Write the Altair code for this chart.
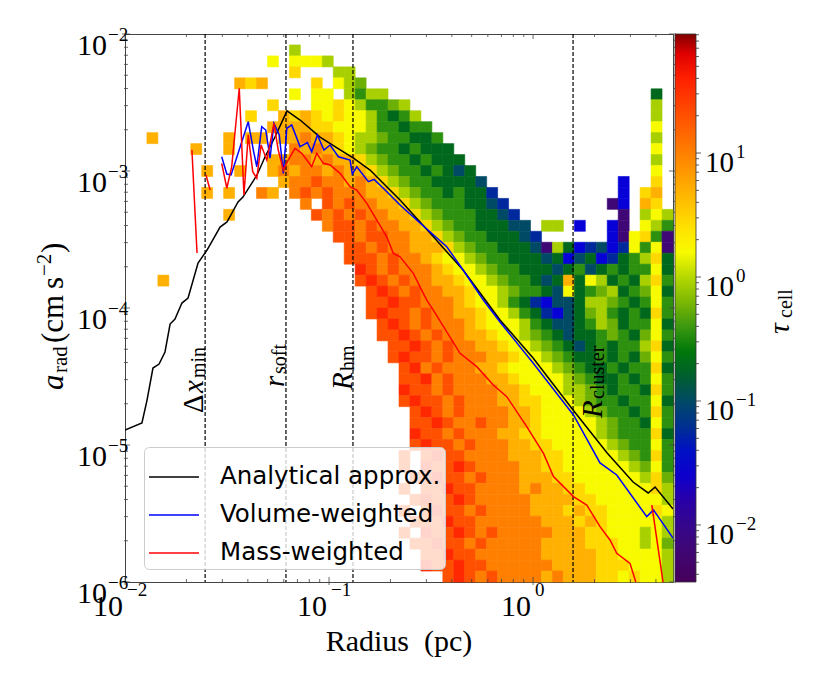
import altair as alt
import numpy as np
import pandas as pd

W, H = 548, 548
X_DOMAIN = [0.01, 4.85]
Y_DOMAIN = [1e-6, 1e-2]
SERIF = "Liberation Serif"
SANS = "DejaVu Sans"

# ---------------- colour map (log10 tau stops) ----------------
CB_STOPS = [-2.46, -2.1, -1.8, -1.5, -1.2, -1.0, -0.75, -0.6, -0.4, -0.15,
            0.05, 0.22, 0.5, 0.8, 1.0, 1.3, 1.6, 1.8, 1.96]
CB_COLORS = ["#46005a", "#3c0a80", "#2800a8", "#0000e0", "#003090", "#004a66",
             "#006420", "#00780a", "#3c9810", "#8cc000", "#c4e000", "#ffff00",
             "#ffd000", "#ffa000", "#ff8000", "#ff5000", "#ff2000", "#e00000", "#800000"]

# ---------------- 2D histogram ----------------
# 50 columns in log r from 0.01 to 4.85 pc, 50 rows in log a from 1e-2 (top) to 1e-6
TAU_CODE = {"P": -2.2, "B": -1.55, "b": -1.25, "T": -1.0, "G": -0.72, "g": -0.45,
            "h": -0.25, "l": -0.05, "y": 0.2, "Y": 0.45, "o": 0.7, "O": 1.0,
            "r": 1.3, "R": 1.55}
HEAT_ROWS = [
    ".......... .......... .......... .......... ..........",
    ".......... .....l.... .......... .......... ..........",
    ".......... ...y.yyyl. .......... .......... ..........",
    ".......... .....Y...l l......... .......... ..........",
    ".......... oYo....Y.y lh........ .......... ..........",
    ".......... .....y.yy. lgll...... .......... ........G.",
    ".......... ...Y...yyY ylgghl.... .......... ........l.",
    ".......... .Y..oYoYyY yylgGgl... .......... ........l.",
    ".......... ...ooooYYy yylggGgg.. .......... ........y.",
    "..o......o .oo.ooOooY yllhggGGg. .......... ........l.",
    "......o..o .....OoOoY ylhggGgGGG .......... ........y.",
    ".......... ...ooOOoOo oYlhggGgGG G......... ........l.",
    ".......o.. o..oOoOOoO ooYlhggGgG TG........ ........y.",
    ".......... ....oOOrOO oOoYlhggGG GGT....... .....B..Y.",
    ".......o.o ..Oo.OrOrO OOooYlhggG gGGb...... .....B.Yo.",
    ".......... ......O.rO rOOooYlhgg gGGTb..... ....PB.oY.",
    ".........o .......rOr OrOOooYlhg ggGGTb.... .....P.lyl",
    ".......... ........Or rOrOOooYlh ggGGGTT.ll .B..BP.ylg",
    ".......... .........r rOrrOOooYl hggGGGTb.. ....BPyYgP",
    ".......... .......... rrOrOOoooY lhggGGGTPl GBbTBbygyP",
    ".......... .......... rrrOrOOoYy ylhggGGGTG BTGBbGglYG",
    ".......... .......... .RrOrOOOoY yylhggGGGT GgTGgGggyG",
    "...o...... .......... .rRrOrOOoo YyylhggGTG oGylGgGlYg",
    ".......... .......... ..rRrOrOOo oYyylhggGT yGghlGghyG",
    ".......... .......... ..rrRrrOOO oYyylgGbBT TGllhgGgyg",
    ".......... .......... ..rRrrOrOO ooYyylgGbB TGhlgGgGYg",
    ".......... .......... ...rRrOrOO OoYyyylgGT TGglhGggyG",
    ".......... .......... ...rrRrOrO OooYyylhgG TGGghgGhyg",
    ".......... .......... ....rrRrOr OOooYyylhg GTGgGgglYG",
    ".......... .......... ....rRrrOr OOOooYyylh gGGgGgGhyg",
    ".......... .......... .....rROrO OOooYyyyyl hgGGgGggYG",
    ".......... .......... .....rrROr OOOooYyyyy lhgGGgGgyg",
    ".......... .......... .....RrrOr OOOOooYyyy llhgGggGYg",
    ".......... .......... .....rRrrO rOOOooYYyy ylhggGggyG",
    ".......... .......... ......rRrO rOOOOooYyy yylhggGgYg",
    ".......... .......... ......rrRr OOrOOooYyy yyylhggGyg",
    ".......... .......... ......RrrO rOOOooYYyy yyylhgggYG",
    ".......... .......... ......rRrr OrOOOooYYy yyyylhggyg",
    ".......... .......... .....r.rRr rOOOOoooYY yyyyylhgYg",
    ".......... .......... .....r.Rrr RrOOOOooYY yyyyyylhyg",
    ".......... .......... ......rrRr rOrOOOoooY YyyyyyylYh",
    ".......... .......... .....r.rrR rrOOOOoOoo YYyyyyyyYl",
    ".......... .......... ......rRrr RrOOOOOooo oYYyyyyyyl",
    ".......... .......... .....r.rRr rOrOOOOooo YoYYyyyyYy",
    ".......... .......... ......rrrR rrOOOOOOoo oYoYyyyyyl",
    ".......... .......... .....r.Rrr RrOrOOOOOo ooYYyyylyl",
    ".......... .......... ......rrRr rOrOOOOOoo ooYYYyylyh",
    ".......... .......... .......rrR rrOOOOOOoo oooYYyyyyl",
    ".......... .......... .......Rrr RrrOOOOOOo oooYYYyyyl",
    ".......... .......... .........r RrOrOOOOoO oooYYyYyyl",
]
NX, NY = 50, 50
LX = np.linspace(-2.0, np.log10(X_DOMAIN[1]), NX + 1)
LY = np.linspace(-2.0, -6.0, NY + 1)

# ---------------- profiles (log10 r, log10 a) ----------------
BLACK_LOGR = [-2.000, -1.917, -1.892, -1.863, -1.833, -1.804, -1.779, -1.755, -1.721, -1.691,
              -1.642, -1.598, -1.534, -1.500, -1.446, -1.422, -1.353, -1.314, -1.265, -1.206,
              -1.142, -1.044, -0.961, -0.882, -0.799, -0.716, -0.652, -0.505, -0.343, -0.245,
              -0.162, 0.000, 0.196, 0.363, 0.490, 0.564, 0.598, 0.686]
BLACK_LOGA = [-4.891, -4.839, -4.672, -4.438, -4.409, -4.321, -4.117, -4.080, -3.964, -3.927,
              -3.672, -3.577, -3.409, -3.372, -3.226, -3.190, -3.029, -2.898, -2.752, -2.562,
              -2.628, -2.752, -2.832, -2.905, -2.993, -3.117, -3.212, -3.453, -3.723, -3.920,
              -4.088, -4.365, -4.745, -5.058, -5.270, -5.350, -5.307, -5.467]
BLUE_LOGR = [-1.526, -1.501, -1.480, -1.396, -1.371, -1.354, -1.330, -1.310, -1.289, -1.270,
             -1.244, -1.224, -1.207, -1.183, -1.142, -1.106, -1.085, -1.057, -1.025, -0.995,
             -0.954, -0.897, -0.886, -0.864, -0.807, -0.779, -0.734, -0.685, -0.652, -0.554,
             -0.423, -0.343, -0.244, -0.162, 0.000, 0.198, 0.328, 0.410, 0.557, 0.590, 0.686]
BLUE_LOGA = [-2.896, -3.022, -3.029, -2.640, -2.847, -2.969, -2.677, -2.701, -2.907, -2.652,
             -2.737, -3.017, -2.688, -2.664, -2.823, -2.793, -2.859, -2.737, -2.847, -2.810,
             -2.896, -2.920, -3.022, -2.969, -3.078, -3.061, -3.126, -3.199, -3.248, -3.380,
             -3.553, -3.723, -3.942, -4.102, -4.401, -4.781, -5.131, -5.219, -5.523, -5.474, -5.679]
RED_SEGMENTS = [
    ([-1.672, -1.647], [-2.847, -3.599]),
    ([-1.603, -1.583], [-3.029, -3.139]),
    ([-1.526, -1.501, -1.477, -1.440, -1.417, -1.396, -1.374, -1.354, -1.333, -1.305,
      -1.270, -1.249, -1.224, -1.200, -1.167, -1.134, -1.109, -1.085, -1.060, -1.028,
      -0.995, -0.946, -0.897, -0.864, -0.815, -0.766, -0.717, -0.685, -0.652, -0.587,
      -0.538, -0.521, -0.489, -0.358, -0.276, -0.195, -0.129, -0.031, 0.051, 0.100,
      0.198, 0.263, 0.328, 0.377, 0.410, 0.475, 0.508],
     [-2.944, -3.126, -2.969, -2.396, -3.175, -2.737, -3.005, -3.053, -2.810, -2.920,
      -2.652, -2.847, -2.993, -2.920, -2.834, -2.871, -2.920, -2.969, -2.871, -2.944,
      -2.956, -3.017, -3.115, -3.139, -3.236, -3.358, -3.480, -3.601, -3.626, -3.747,
      -3.893, -3.942, -4.015, -4.331, -4.428, -4.562, -4.647, -4.866, -5.061, -5.231,
      -5.377, -5.438, -5.596, -5.693, -5.791, -5.864, -6.022]),
    ([0.582, 0.639], [-5.438, -6.022]),
]
SERIES = ["Analytical approx.", "Volume-weighted", "Mass-weighted"]
SERIES_COLORS = ["black", "#0000ff", "#ff0000"]

# vertical markers (pc) and their labels
VLINES = [0.0247, 0.0615, 0.131, 1.57]
# label pieces: (text, r of baseline, a where the piece starts, style)
VLABEL_PIECES = [
    ("Δ", 0.02412, 1.714e-5, "up"), ("x", 0.02412, 2.40e-5, "it"), ("min", 0.02412, 3.08e-5, "sub"),
    ("r", 0.06049, 2.65e-5, "it"), ("soft", 0.06049, 3.30e-5, "sub"),
    ("R", 0.1296, 2.52e-5, "it"), ("hm", 0.1296, 3.47e-5, "sub"),
    ("R", 2.178, 1.574e-5, "it"), ("cluster", 2.178, 2.17e-5, "sub"),
]

# ticks
X_MAJOR = [0.01, 0.1, 1.0]
X_MAJOR_EXP = ["−2", "−1", "0"]
X_MINOR = [k * 10.0 ** e for e in (-2, -1) for k in range(2, 10)] + [2.0, 3.0, 4.0]
Y_MAJOR = [1e-6, 1e-5, 1e-4, 1e-3, 1e-2]
Y_MAJOR_EXP = ["−6", "−5", "−4", "−3", "−2"]
Y_MINOR = [k * 10.0 ** e for e in (-6, -5, -4, -3) for k in range(2, 10)]
TAU_MAJOR = [0.01, 0.1, 1.0, 10.0]
TAU_MAJOR_EXP = ["−2", "−1", "0", "1"]
TAU_MINOR = [k * 10.0 ** e for e in (-3, -2, -1, 0, 1) for k in range(2, 10)]
TAU_MINOR = [t for t in TAU_MINOR if 10 ** -2.46 <= t <= 10 ** 1.96]

# ---------------- data frames ----------------
recs = []
for j, row in enumerate(HEAT_ROWS):
    s = row.replace(" ", "")
    for i, ch in enumerate(s[:NX]):
        if ch in TAU_CODE:
            recs.append({"r0": 10 ** LX[i], "r1": 10 ** LX[i + 1],
                         "a0": 10 ** LY[j + 1], "a1": 10 ** LY[j], "logtau": TAU_CODE[ch]})
heat_df = pd.DataFrame(recs)

lrec = []
def add_seg(name, sid, lr, la):
    for k, (u, v) in enumerate(zip(lr, la)):
        lrec.append({"series": name, "seg": sid, "k": k, "r": 10 ** u, "a": 10 ** v})
add_seg(SERIES[0], "b0", BLACK_LOGR, BLACK_LOGA)
add_seg(SERIES[1], "v0", BLUE_LOGR, BLUE_LOGA)
for n, (lr, la) in enumerate(RED_SEGMENTS):
    add_seg(SERIES[2], "m%d" % n, lr, la)
line_df = pd.DataFrame(lrec)

xs = alt.Scale(type="log", domain=X_DOMAIN, nice=False)
ys = alt.Scale(type="log", domain=Y_DOMAIN, nice=False)
ONE = pd.DataFrame({"k": [0]})

heat = alt.Chart(heat_df).mark_rect(strokeWidth=0.6).encode(
    x=alt.X("r0:Q", scale=xs, axis=None), x2="r1:Q",
    y=alt.Y("a0:Q", scale=ys, axis=None), y2="a1:Q",
    fill=alt.Fill("logtau:Q",
                  scale=alt.Scale(domain=CB_STOPS, range=CB_COLORS, interpolate="rgb"),
                  legend=alt.Legend(orient="none", legendX=550, legendY=0, direction="vertical",
                                    gradientLength=H, gradientThickness=21, title=None,
                                    labelExpr="''", padding=0,
                                    gradientStrokeColor="#333", gradientStrokeWidth=0.8)),
    stroke=alt.Stroke("logtau:Q",
                      scale=alt.Scale(domain=CB_STOPS, range=CB_COLORS, interpolate="rgb"),
                      legend=None),
)

vl = alt.Chart(pd.DataFrame({"r": VLINES})).mark_rule(
    color="black", strokeDash=[4, 2], strokeWidth=1.2).encode(
    x=alt.X("r:Q", scale=xs, axis=None), y=alt.value(0), y2=alt.value(H))

lines = alt.Chart(line_df).mark_line(strokeWidth=1.5, clip=True).encode(
    x=alt.X("r:Q", scale=xs, axis=None),
    y=alt.Y("a:Q", scale=ys, axis=None),
    stroke=alt.Stroke("series:N", scale=alt.Scale(domain=SERIES, range=SERIES_COLORS),
                      legend=alt.Legend(orient="none", legendX=19, legendY=413, title=None,
                                        symbolType="stroke", symbolSize=2500,
                                        symbolStrokeWidth=1.5, labelFont=SANS,
                                        labelFontSize=24.5, labelLimit=600, labelOffset=20,
                                        padding=4, rowPadding=0,
                                        fillColor="rgba(255,255,255,0.8)",
                                        strokeColor="#cccccc", cornerRadius=5)),
    detail="seg:N", order="k:Q",
)

def rule_x(vals, y0, y1):
    return alt.Chart(pd.DataFrame({"v": vals})).mark_rule(color="#444", strokeWidth=0.8).encode(
        x=alt.X("v:Q", scale=xs, axis=None), y=alt.value(y0), y2=alt.value(y1))

def rule_y(vals, x0, x1):
    return alt.Chart(pd.DataFrame({"v": vals})).mark_rule(color="#444", strokeWidth=0.8).encode(
        y=alt.Y("v:Q", scale=ys, axis=None), x=alt.value(x0), x2=alt.value(x1))

ticks = [rule_x(X_MAJOR, H - 5, H + 3), rule_x(X_MINOR, H - 3, H + 1),
         rule_x(X_MAJOR, 0, 5), rule_x(X_MINOR, 0, 3),
         rule_y(Y_MAJOR, -3, 5), rule_y(Y_MINOR, -1, 3),
         rule_y(Y_MAJOR, W - 4, W + 3), rule_y(Y_MINOR, W, W + 3)]

xlab = pd.DataFrame({"v": X_MAJOR, "e": X_MAJOR_EXP})
ylab = pd.DataFrame({"v": Y_MAJOR, "e": Y_MAJOR_EXP})
x_lab10 = alt.Chart(xlab).mark_text(text="10", font=SERIF, fontSize=30, align="right", dx=-2).encode(
    x=alt.X("v:Q", scale=xs, axis=None), y=alt.value(H + 25))
x_labexp = alt.Chart(xlab).mark_text(font=SERIF, fontSize=19, align="left", dx=2).encode(
    x=alt.X("v:Q", scale=xs, axis=None), y=alt.value(H + 8), text="e:N")
y_lab10 = alt.Chart(ylab).mark_text(text="10", font=SERIF, fontSize=30, align="right", dy=12).encode(
    y=alt.Y("v:Q", scale=ys, axis=None), x=alt.value(-18))
y_labexp = alt.Chart(ylab).mark_text(font=SERIF, fontSize=19, align="left", dy=1).encode(
    y=alt.Y("v:Q", scale=ys, axis=None), x=alt.value(-17), text="e:N")

pieces = pd.DataFrame([{"t": t, "r": r, "a": a, "s": s} for t, r, a, s in VLABEL_PIECES])
def vlabel(style, size, italic, dy):
    kw = dict(font=SERIF, fontSize=size, angle=270, align="left", baseline="alphabetic", dy=dy)
    if italic:
        kw["fontStyle"] = "italic"
    return alt.Chart(pieces).transform_filter(alt.datum.s == style).mark_text(**kw).encode(
        x=alt.X("r:Q", scale=xs, axis=None), y=alt.Y("a:Q", scale=ys, axis=None), text="t:N")
vlabels = [vlabel("up", 29, False, 0), vlabel("it", 29, True, 0), vlabel("sub", 20, False, 2)]

def label(text, x, y, size, italic=False, angle=0, align="left", font=SERIF):
    kw = dict(text=text, font=font, fontSize=size, align=align, baseline="alphabetic")
    if italic:
        kw["fontStyle"] = "italic"
    if angle:
        kw["angle"] = angle
    return alt.Chart(ONE).mark_text(**kw).encode(x=alt.value(x), y=alt.value(y))

titles = [
    label("Radius\u2002(pc)", W / 2, 617, 30, align="center"),
    label("a", -62, 356, 31, italic=True, angle=270),
    label("rad", -58, 339, 21, angle=270),
    label("(cm", -62, 309, 31, angle=270),
    label("s", -62, 255, 31, angle=270),
    label("−2", -74, 242, 21, angle=270),
    label(")", -62, 219, 31, angle=270),
    label("τ", 664, 300, 30, italic=True, angle=270),
    label("cell", 667, 284, 20, angle=270),
]

main = alt.layer(heat, vl, lines, *ticks, x_lab10, x_labexp, y_lab10, y_labexp,
                 *vlabels, *titles).resolve_scale(stroke="independent")

tscale = alt.Scale(type="log", domain=[10 ** -2.46, 10 ** 1.96], nice=False)
tlab = pd.DataFrame({"v": TAU_MAJOR, "e": TAU_MAJOR_EXP})
cb_major = alt.Chart(pd.DataFrame({"v": TAU_MAJOR})).mark_rule(color="#333", strokeWidth=0.8).encode(
    y=alt.Y("v:Q", scale=tscale, axis=None), x=alt.value(571), x2=alt.value(576))
cb_minor = alt.Chart(pd.DataFrame({"v": TAU_MINOR})).mark_rule(color="#333", strokeWidth=0.8).encode(
    y=alt.Y("v:Q", scale=tscale, axis=None), x=alt.value(571), x2=alt.value(574))
cb_lab10 = alt.Chart(tlab).mark_text(text="10", font=SERIF, fontSize=29, align="left", dy=10).encode(
    y=alt.Y("v:Q", scale=tscale, axis=None), x=alt.value(580))
cb_labexp = alt.Chart(tlab).mark_text(font=SERIF, fontSize=19, align="left", dy=-1).encode(
    y=alt.Y("v:Q", scale=tscale, axis=None), x=alt.value(611), text="e:N")
cbar = alt.layer(cb_major, cb_minor, cb_lab10, cb_labexp)

chart = alt.layer(main, cbar).resolve_scale(y="independent").properties(
    width=W, height=H,
    padding={"left": 117, "top": 26, "right": 149, "bottom": 97},
    autosize=alt.AutoSizeParams(type="none"),
).configure_view(stroke="#444", strokeWidth=1)

chart.save("out.html", embed_options={"renderer": "svg", "actions": False})
